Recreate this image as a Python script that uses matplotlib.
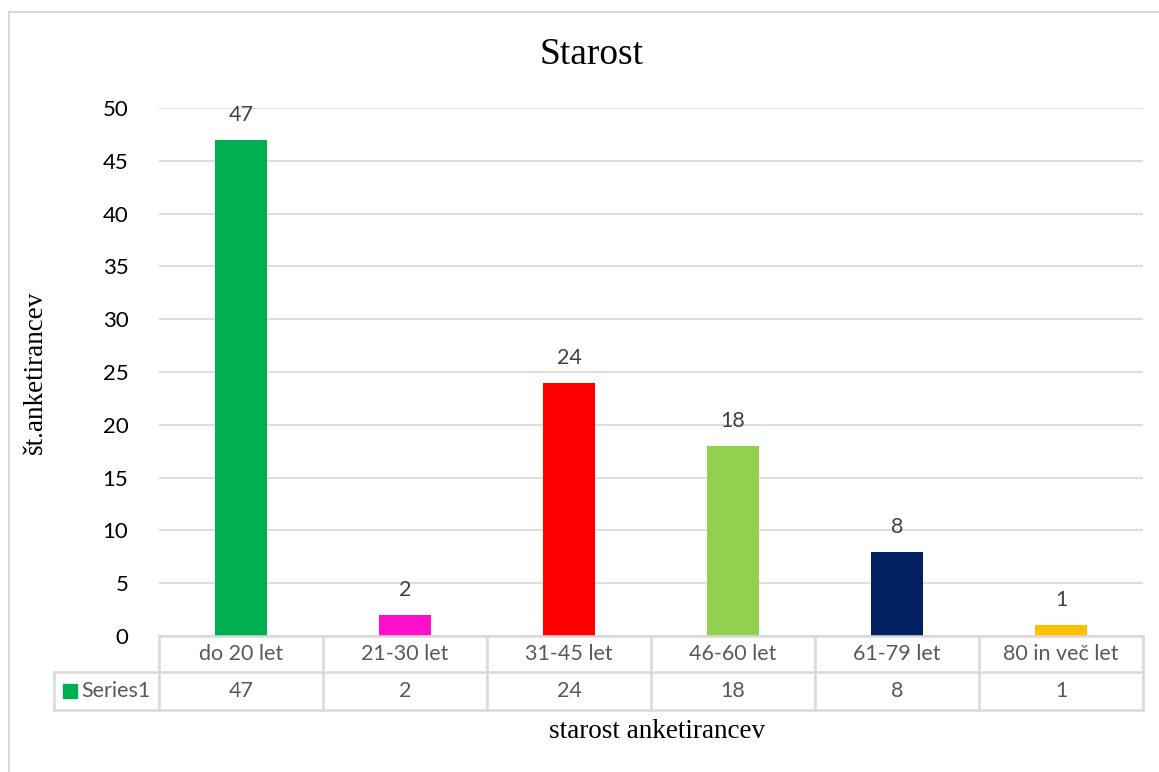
import matplotlib.pyplot as plt
from matplotlib.patches import Rectangle

categories = ["do 20 let", "21-30 let", "31-45 let", "46-60 let", "61-79 let", "80 in več let"]
counts = [47, 2, 24, 18, 8, 1]
bar_colors = ["#00B050", "#FF0FCC", "#FF0000", "#92D050", "#002060", "#FFC000"]
series_name = "Series1"

W, H = 1159, 772
grid_c = "#d9d9d9"
sans = ["Lato", "DejaVu Sans"]
serif = ["Liberation Serif", "DejaVu Serif"]

fig = plt.figure(figsize=(W / 100, H / 100), dpi=100)
ax = fig.add_axes([159 / W, 1 - 636 / H, (1143 - 159) / W, (636 - 108) / H])

x = list(range(len(categories)))
bars = ax.bar(x, counts, width=0.32, color=bar_colors, zorder=3)
for b, v in zip(bars, counts):
    ax.annotate(str(v), (b.get_x() + b.get_width() / 2, v), xytext=(0, 18),
                textcoords="offset points", ha="center", va="center",
                fontsize=15.5, color="#404040", family=sans)

ax.set_xlim(-0.5, len(categories) - 0.5)
ax.set_ylim(0, 50)
ax.set_yticks(range(0, 51, 5))
ax.tick_params(axis="y", length=0, pad=22, labelsize=16, labelcolor="black")
for lbl in ax.get_yticklabels():
    lbl.set_family(sans)
ax.set_xticks([])
ax.grid(axis="y", color=grid_c, lw=1.2, zorder=0)
for s in ax.spines.values():
    s.set_visible(False)

# data table under the plot
r1, r2 = -36 / 528, -74 / 528
left = -0.5 - 105 / 164
tr = ax.get_xaxis_transform()
line = dict(color=grid_c, lw=1.8, clip_on=False, transform=tr, zorder=4)
ax.plot([-0.5, 5.5], [0, 0], **line)
ax.plot([left, 5.5], [r1, r1], **line)
ax.plot([left, 5.5], [r2, r2], **line)
ax.plot([left, left], [r1, r2], **line)
for xb in [i - 0.5 for i in range(len(categories) + 1)]:
    ax.plot([xb, xb], [0, r2], **line)
for i, (c, v) in enumerate(zip(categories, counts)):
    ax.text(i, r1 / 2, c, transform=tr, ha="center", va="center",
            fontsize=15.5, color="#595959", family=sans)
    ax.text(i, (r1 + r2) / 2, str(v), transform=tr, ha="center", va="center",
            fontsize=15.5, color="#595959", family=sans)

fig.patches.append(Rectangle((63 / W, 1 - 698 / H), 14 / W, 14 / H,
                             transform=fig.transFigure, color=bar_colors[0]))
fig.text(81 / W, 1 - 691 / H, series_name, ha="left", va="center",
         fontsize=15.5, color="#595959", family=sans)

fig.text(591 / W, 1 - 55 / H, "Starost", ha="center", va="center",
         fontsize=27, family=serif)
fig.text(35 / W, 1 - 372 / H, "št.anketirancev", ha="center", va="center",
         rotation=90, fontsize=19.5, family=serif)
fig.text(657 / W, 1 - 732 / H, "starost anketirancev", ha="center", va="center",
         fontsize=19.5, family=serif)

# chart frame
fig.patches.append(Rectangle((9 / W, -0.1), 1.2, 1.1 - 12 / H, transform=fig.transFigure,
                             fill=False, edgecolor=grid_c, lw=1.5))

fig.savefig("out.png", dpi=100)
